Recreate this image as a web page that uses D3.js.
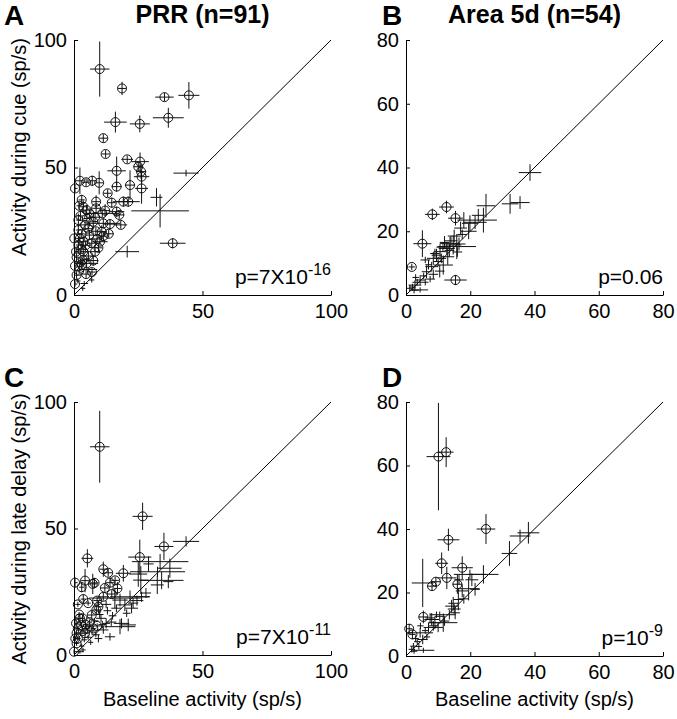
<!DOCTYPE html>
<html><head><meta charset="utf-8">
<script src="https://cdn.jsdelivr.net/npm/d3@7"></script>
<style>
html,body{margin:0;padding:0;background:#fff;}
svg text{font-family:"Liberation Sans",Arial,Helvetica,sans-serif;fill:#000;}
</style></head>
<body><svg id="chart" width="677" height="719"></svg>
<script>
// Each point: [baseline, activity, baseline error, activity error, significant(1=circle)]
const prrCue = [
[10.0,88.6,3.8,10.8,1],[18.7,81.0,1.6,2.6,1],[35.2,77.6,3.6,1.6,1],[44.7,78.3,4.1,5.2,1],
[36.7,69.5,6.0,3.9,1],[16.1,67.8,4.4,4.1,1],[25.6,67.1,3.9,3.3,1],[11.4,61.5,1.6,1.6,1],
[12.3,55.3,1.5,1.5,1],[20.7,53.2,2.3,1.5,1],[25.7,52.3,3.4,3.6,1],[25.0,50.3,1.8,2.0,1],
[26.1,48.4,2.0,3.0,1],[26.3,46.4,3.0,2.5,1],[26.3,41.8,2.5,6.0,1],[16.6,48.7,3.6,5.6,1],
[16.6,42.5,2.0,2.0,1],[21.8,43.1,2.0,5.8,1],[43.6,47.8,4.9,1.3,0],[0.4,41.8,1.0,1.5,1],
[2.3,44.8,1.5,5.2,1],[4.7,44.2,1.5,1.5,1],[7.1,44.8,1.5,2.0,1],[9.8,44.0,1.5,4.5,1],
[13.1,39.9,1.5,1.5,1],[32.1,38.3,2.3,3.6,0],[33.5,33.0,11.2,6.5,0],[3.0,37.3,1.2,2.0,1],
[3.6,34.6,1.5,2.5,1],[8.6,36.6,1.5,2.5,1],[8.6,34.0,1.5,1.5,1],[14.7,36.2,1.5,2.0,1],
[19.2,36.6,4.0,2.0,1],[21.1,36.6,4.5,2.0,1],[4.9,33.3,2.0,2.0,1],[12.1,33.1,2.0,2.5,1],
[16.6,32.7,3.0,2.0,1],[17.6,31.4,2.0,1.5,1],[1.7,29.4,1.0,2.5,1],[8.2,30.5,2.5,2.0,1],
[4.3,27.5,2.0,2.0,1],[7.5,28.7,1.5,3.0,1],[11.4,28.1,6.5,2.0,1],[14.0,27.8,2.5,2.0,1],
[18.2,27.5,2.5,1.5,1],[1.7,25.5,1.0,2.0,1],[10.8,24.8,2.0,2.5,1],[11.4,23.1,1.5,2.0,1],
[0.1,22.2,1.0,1.5,1],[2.3,22.2,1.2,2.0,1],[3.6,20.9,1.5,2.0,1],[1.7,19.6,1.0,2.5,1],
[6.9,20.3,1.5,2.0,1],[10.1,20.9,3.0,1.5,1],[8.2,17.0,2.0,2.0,1],[3.6,17.0,1.5,1.5,1],
[5.6,15.3,1.5,2.0,1],[1.0,14.8,1.0,1.5,1],[3.0,11.8,1.0,2.0,1],[4.9,12.4,4.5,2.0,1],
[0.4,11.4,0.8,1.5,1],[1.0,7.8,0.8,1.5,1],[4.7,8.2,1.5,1.5,1],[0.4,4.3,0.8,1.0,1],
[6.9,5.9,1.0,1.0,0],[3.4,2.6,1.0,1.0,0],[38.4,20.3,5.0,2.0,1],[20.7,17.0,4.6,2.3,0],
[2.5,31.0,1.0,2.0,1],[5.5,26.0,1.5,1.5,1],[6.0,23.5,1.5,2.0,1],[2.8,18.0,1.5,1.5,1],
[4.5,19.5,2.0,1.5,1],[7.5,13.5,2.0,2.0,1],[2.0,9.5,1.0,1.5,1],[3.5,13.8,1.2,1.5,1],
[5.5,10.0,3.5,1.0,0],[8.5,25.0,1.5,1.5,1],[0.8,17.0,1.0,1.0,1],[13.5,24.0,2.0,1.5,1],
[9.5,18.5,1.5,1.5,1],[6.0,32.0,1.5,1.5,1],[3.0,24.0,1.0,1.5,1],[11.0,32.0,6.5,1.5,1],
[2.0,35.0,1.0,1.5,1],[5.0,30.0,1.2,1.5,1],[9.0,22.0,1.5,1.5,1],[2.5,12.8,1.0,1.0,1],
[1.5,5.5,1.0,1.0,0],[4.0,4.5,1.5,1.0,0],[7.0,9.0,1.5,1.5,1]
];
const area5dCue = [
[38.6,38.4,3.5,2.6,0],[24.9,28.0,2.9,3.7,0],[32.4,28.6,2.6,3.1,0],[35.5,29.0,3.0,2.0,0],
[12.6,27.6,2.3,2.0,1],[8.2,25.3,2.3,1.8,1],[15.4,24.1,2.3,2.3,1],[5.1,16.1,2.8,4.2,1],
[1.8,8.8,1.0,1.0,1],[15.4,4.7,3.5,1.6,1],[24.1,23.5,4.2,3.9,0],[21.5,22.8,3.6,2.1,0],
[19.9,22.5,2.5,2.5,0],[17.0,21.0,2.0,2.0,0],[19.5,20.0,2.5,2.5,0],[13.7,16.2,3.1,2.0,0],
[15.8,15.2,6.0,3.9,0],[14.7,15.7,2.5,3.0,0],[12.7,14.6,2.5,2.0,0],[10.6,13.6,2.0,2.5,0],
[8.5,11.5,2.0,2.0,0],[8.0,8.9,2.0,1.5,0],[11.6,9.4,3.0,3.0,0],[6.4,7.3,1.5,2.0,0],
[4.4,4.7,1.5,1.5,0],[2.8,3.1,2.0,1.5,0],[1.2,2.1,1.0,1.0,0],[4.4,1.6,2.5,0.8,0],
[16.5,16.0,2.0,2.0,0],[11.5,15.0,2.0,1.5,0],[9.5,12.5,1.5,2.0,0],[13.0,12.0,2.0,2.5,0],
[10.0,10.5,1.5,1.5,0],[7.0,9.5,1.0,1.5,0],[12.0,16.5,1.5,2.0,0],[14.0,17.0,2.0,1.5,0],
[3.5,4.0,1.5,1.0,0],[5.5,6.0,1.0,1.0,0],[2.0,2.5,1.0,1.0,0],[9.0,13.0,1.5,1.5,0],
[6.0,11.0,1.5,1.0,0],[17.5,19.0,1.5,1.5,0],[7.5,5.0,1.5,1.0,0],[11.0,11.5,1.5,1.5,0],
[16.0,13.5,1.5,1.5,0],[3.0,5.5,1.0,1.0,0],[2.5,1.5,1.5,1.0,0],[10.5,7.5,1.5,2.0,0],
[13.5,14.0,1.5,2.0,0],[18.0,23.5,2.0,2.5,0],[22.5,25.0,2.0,2.0,0],[15.0,18.5,2.0,2.0,0],
[8.5,6.5,1.5,1.5,0],[6.0,4.0,1.0,1.0,0]
];
const prrDelay = [
[10.0,82.3,3.8,14.2,1],[26.7,54.8,3.9,5.4,1],[35.0,42.9,3.7,5.4,1],[43.6,44.9,5.1,2.0,0],
[25.6,38.7,4.5,6.9,1],[5.2,38.2,2.3,3.6,1],[11.4,33.9,1.5,3.0,1],[13.3,32.5,1.5,1.5,1],
[19.2,32.3,2.9,3.3,1],[0.4,28.6,1.0,2.0,1],[4.3,29.4,1.5,4.6,1],[7.3,28.1,1.5,4.0,1],
[3.0,26.8,1.0,2.0,1],[8.0,28.5,1.5,2.0,1],[14.0,28.6,1.5,2.0,1],[3.6,22.1,1.0,2.0,1],
[11.4,23.0,2.0,1.5,1],[16.9,26.3,1.5,2.5,1],[14.7,24.1,1.5,1.5,1],[9.5,19.1,1.5,2.5,1],
[8.7,17.8,1.5,1.5,1],[6.9,15.8,1.5,1.5,1],[2.3,14.5,1.0,1.5,1],[3.3,14.5,1.0,1.5,1],
[0.8,12.5,0.8,1.5,1],[1.0,8.6,0.8,1.5,1],[1.0,4.6,0.8,1.0,1],[0.0,1.3,0.8,0.8,1],
[4.3,8.6,1.5,1.5,1],[25.0,32.0,3.5,5.0,0],[33.5,36.9,11.0,3.0,0],[32.5,32.9,10.7,2.0,0],
[37.3,34.3,4.6,3.8,0],[34.1,29.5,8.5,3.5,0],[32.4,27.7,2.5,3.6,0],[36.7,29.0,2.0,2.6,0],
[26.0,29.6,3.0,5.5,0],[21.8,23.0,7.8,2.5,0],[17.9,21.7,3.0,2.5,0],[19.8,19.8,3.0,2.5,0],
[26.3,23.0,3.0,2.0,0],[15.9,22.5,10.0,4.0,0],[22.4,18.5,2.5,2.0,0],[17.9,11.2,6.0,3.0,0],
[21.1,11.9,3.0,2.5,0],[11.4,9.9,2.0,1.5,0],[14.0,7.2,2.0,1.5,0],[9.5,6.5,1.5,1.5,0],
[2.3,1.3,1.5,0.8,0],[1.5,10.5,0.8,1.0,1],[2.8,11.8,1.0,1.0,1],[5.5,7.0,1.5,1.0,0],
[7.0,9.5,1.5,1.5,0],[8.5,8.0,1.5,1.0,0],[12.5,12.5,1.5,2.0,0],[10.5,14.5,2.0,1.5,0],
[6.0,11.5,1.5,1.0,0],[4.0,6.0,1.0,1.0,0],[3.0,3.5,1.0,1.0,0],[1.5,6.5,1.0,1.0,1],
[5.0,10.5,1.0,1.0,1],[2.0,16.0,1.0,1.0,1],[6.0,13.0,1.0,1.0,1],[4.5,12.0,1.0,1.0,1],
[3.5,9.5,1.0,1.0,1],[7.5,10.5,1.0,1.0,1],[9.0,11.5,1.5,1.0,1],[0.5,6.5,0.8,1.0,1],
[13.0,17.5,1.5,1.5,0],[15.0,15.5,1.5,1.5,0],[16.5,18.5,2.0,1.5,0],[11.0,12.0,1.5,1.5,0],
[18.5,12.5,3.0,2.0,0],[23.0,20.5,2.0,2.0,0],[28.0,24.5,2.0,2.0,0],[10.0,16.0,1.5,1.5,0],
[12.5,20.0,2.0,1.5,0],[6.5,5.0,1.0,1.0,0],[8.0,13.5,1.5,1.0,0],[24.5,21.5,2.5,2.0,0],
[14.5,13.0,2.0,1.5,0],[3.5,2.0,1.0,0.8,0],[20.5,16.5,1.5,1.5,0],[9.0,21.5,1.5,1.5,1],
[5.5,20.5,1.0,1.0,1],[12.0,26.5,1.5,1.5,1],[1.5,20.0,1.0,1.0,1],[16.0,29.5,1.5,1.5,1],
[29.0,36.0,2.0,3.0,0]
];
const area5dDelay = [
[10.1,62.8,3.7,16.9,1],[12.5,64.2,2.3,4.7,1],[24.9,40.0,2.9,4.7,1],[13.2,36.6,3.4,3.5,1],
[11.1,29.2,2.0,3.4,1],[17.5,27.8,3.3,3.6,1],[12.7,24.6,3.0,3.5,1],[9.3,23.4,1.5,1.5,1],
[8.1,22.0,1.5,1.5,1],[16.0,22.6,1.5,3.0,1],[5.2,23.0,3.4,7.6,0],[38.1,38.8,3.4,3.4,0],
[35.5,37.8,3.2,2.0,0],[32.2,32.3,2.4,3.9,0],[24.1,25.7,4.7,2.9,0],[19.9,25.7,5.0,1.5,0],
[19.5,21.2,3.4,3.7,0],[16.3,17.8,1.5,3.4,0],[14.2,15.7,2.0,2.0,0],[15.3,13.6,1.5,2.0,0],
[5.4,12.3,1.5,2.0,1],[8.0,11.5,2.3,2.0,0],[9.0,10.5,2.0,2.0,0],[11.6,10.5,4.4,2.9,0],
[1.0,8.6,1.0,1.5,1],[2.0,6.8,1.0,1.5,1],[4.4,7.3,4.0,1.5,0],[5.2,5.2,1.5,1.5,0],
[2.3,3.1,1.0,1.0,0],[1.8,2.1,1.0,1.0,0],[5.4,1.8,3.4,0.8,0],[14.7,16.6,1.5,2.0,0],
[15.0,14.8,2.0,1.5,0],[17.5,20.5,2.0,2.0,0],[20.5,24.0,2.0,2.0,0],[13.5,13.0,2.0,1.5,0],
[10.5,12.5,1.5,1.5,0],[9.5,13.0,2.0,1.0,0],[7.0,9.0,1.5,1.5,0],[6.0,8.0,1.0,1.0,0],
[3.5,4.5,1.0,1.0,0],[4.0,3.0,1.0,1.0,0],[3.0,5.5,1.0,1.0,0],[8.5,9.5,1.5,1.5,0],
[12.0,11.0,1.5,1.5,0],[21.5,21.0,1.5,2.0,0],[18.0,18.0,1.5,1.5,0],[16.5,24.0,1.5,1.5,0],
[6.5,6.0,1.0,1.0,0],[10.0,9.0,1.5,1.5,0],[2.5,1.5,1.0,0.8,0],[7.5,12.0,1.5,1.5,0],
[4.5,9.5,1.0,1.0,0]
];
const prrTicks = [0, 50, 100];
const area5dTicks = [0, 20, 40, 60, 80];
const panelLetters = ["A", "B", "C", "D"];
const titles = ["PRR (n=91)", "Area 5d (n=54)"];
const yLabels = ["Activity during cue (sp/s)", "Activity during late delay (sp/s)"];
const xLabel = "Baseline activity (sp/s)";
const pValues = [["p=7X10", "-16"], ["p=0.06", ""], ["p=7X10", "-11"], ["p=10", "-9"]];

const svg = d3.select("#chart");
const FONT = 20;

const panels = [
  {data: prrCue, max: 100, ticks: prrTicks, left: 74, right: 331, bottom: 295, top: 40},
  {data: area5dCue, max: 80, ticks: area5dTicks, left: 406, right: 663, bottom: 295, top: 40},
  {data: prrDelay, max: 100, ticks: prrTicks, left: 74, right: 331, bottom: 655, top: 402},
  {data: area5dDelay, max: 80, ticks: area5dTicks, left: 406, right: 663, bottom: 656, top: 402}
];

panels.forEach((p, i) => {
  const x = d3.scaleLinear().domain([0, p.max]).range([p.left, p.right]);
  const y = d3.scaleLinear().domain([0, p.max]).range([p.bottom, p.top]);
  const g = svg.append("g");

  const xa = g.append("g").attr("transform", `translate(0,${p.bottom})`)
    .call(d3.axisBottom(x).tickValues(p.ticks).tickSizeInner(-4).tickSizeOuter(0).tickPadding(9).tickFormat(d3.format("d")));
  const ya = g.append("g").attr("transform", `translate(${p.left},0)`)
    .call(d3.axisLeft(y).tickValues(p.ticks).tickSizeInner(-4).tickSizeOuter(0).tickPadding(7).tickFormat(d3.format("d")));
  [xa, ya].forEach(a => {
    a.attr("font-family", null).attr("font-size", null);
    a.selectAll("path,line").attr("stroke", "#000").attr("stroke-width", 1);
    a.selectAll("text").attr("font-size", FONT).attr("fill", "#000");
  });

  g.append("line").attr("x1", x(0)).attr("y1", y(0)).attr("x2", x(p.max)).attr("y2", y(p.max))
    .attr("stroke", "#000").attr("stroke-width", 1);

  const pts = g.append("g").attr("stroke", "#111").attr("stroke-width", 1).attr("fill", "none");
  pts.selectAll("line.h").data(p.data).join("line").attr("class", "h")
    .attr("x1", d => x(Math.max(0, d[0] - d[2]))).attr("x2", d => x(d[0] + d[2]))
    .attr("y1", d => y(d[1])).attr("y2", d => y(d[1]));
  pts.selectAll("line.v").data(p.data).join("line").attr("class", "v")
    .attr("x1", d => x(d[0])).attr("x2", d => x(d[0]))
    .attr("y1", d => y(Math.max(0, d[1] - d[3]))).attr("y2", d => y(d[1] + d[3]));
  pts.selectAll("circle").data(p.data.filter(d => d[4] === 1)).join("circle")
    .attr("cx", d => x(d[0])).attr("cy", d => y(d[1])).attr("r", 4.5);

  const pt = g.append("text").attr("x", p.right).attr("y", p.bottom - 11)
    .attr("text-anchor", "end").attr("font-size", 21);
  pt.append("tspan").text(pValues[i][0]);
  if (pValues[i][1]) pt.append("tspan").attr("dy", -9).attr("font-size", 16).text(pValues[i][1]);

  g.append("text").attr("x", i % 2 === 0 ? 4 : 382).attr("y", p.top - 15)
    .attr("font-size", 28).attr("font-weight", "bold").text(panelLetters[i]);

  if (i < 2) {
    g.append("text").attr("x", (p.left + p.right) / 2).attr("y", 23)
      .attr("text-anchor", "middle").attr("font-size", 25).attr("font-weight", "bold").text(titles[i]);
  }
  if (i % 2 === 0) {
    const cy = i === 0 ? 147 : 529;
    g.append("text").attr("transform", `translate(26,${cy}) rotate(-90)`)
      .attr("text-anchor", "middle").attr("font-size", 20).text(yLabels[i / 2]);
  }
  if (i >= 2) {
    g.append("text").attr("x", (p.left + p.right) / 2).attr("y", 706)
      .attr("text-anchor", "middle").attr("font-size", 20).text(xLabel);
  }
});
</script></body></html>
